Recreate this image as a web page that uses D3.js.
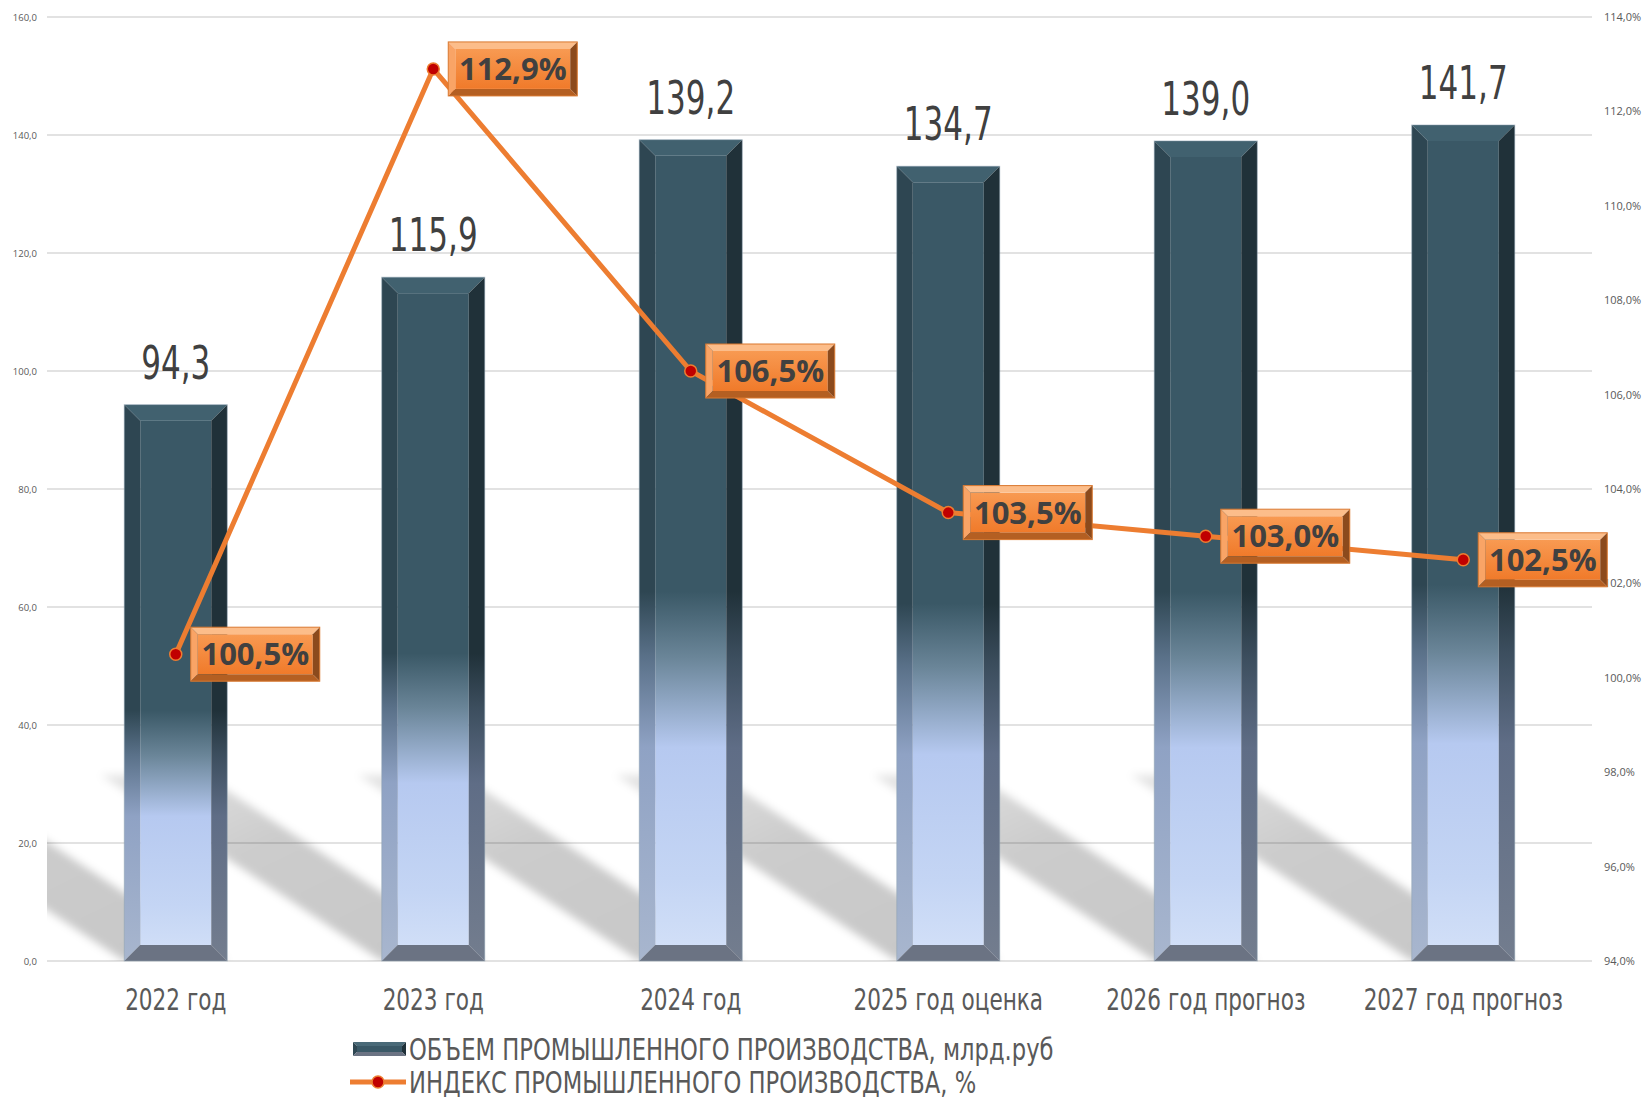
<!DOCTYPE html>
<html>
<head>
<meta charset="utf-8">
<script src="https://cdn.jsdelivr.net/npm/d3@7"></script>
<style>
body { margin: 0; background: #fff; }
svg { display: block; }
</style>
</head>
<body>
<svg id="chart" width="1645" height="1097"></svg>
<script>
var categories = ["2022 год", "2023 год", "2024 год", "2025 год оценка", "2026 год прогноз", "2027 год прогноз"];
var volume = [94.3, 115.9, 139.2, 134.7, 139.0, 141.7];
var indexVals = [100.5, 112.9, 106.5, 103.5, 103.0, 102.5];
var leftTicks = [0, 20, 40, 60, 80, 100, 120, 140, 160];
var rightTicks = [94, 96, 98, 100, 102, 104, 106, 108, 110, 112, 114];
var legendLabels = ["ОБЪЕМ ПРОМЫШЛЕННОГО ПРОИЗВОДСТВА, млрд.руб", "ИНДЕКС ПРОМЫШЛЕННОГО ПРОИЗВОДСТВА, %"];

var narrow = "'DejaVu Sans Condensed', 'Liberation Sans', sans-serif";
var svg = d3.select("#chart");
var defs = svg.append("defs");

var plotL = 47, plotR = 1592, plotT = 17, plotB = 961;

var x = d3.scaleBand().domain(categories).range([plotL, plotR]).paddingInner(0.6).paddingOuter(0.3);
var y = d3.scaleLinear().domain([0, 160]).range([plotB, plotT]);
var y2 = d3.scaleLinear().domain([94, 114]).range([plotB, plotT]);

function comma(f) { return function(d) { return d3.format(f)(d).replace(".", ","); }; }

// grid
svg.append("g")
  .selectAll("line")
  .data(leftTicks)
  .enter().append("line")
  .attr("x1", plotL).attr("x2", plotR)
  .attr("y1", function(d) { return y(d); })
  .attr("y2", function(d) { return y(d); })
  .attr("stroke", "#d9d9d9")
  .attr("stroke-width", 1.5);

// axes
var gl = svg.append("g")
  .attr("transform", "translate(" + plotL + ",0)")
  .call(d3.axisLeft(y).tickValues(leftTicks).tickSize(0).tickPadding(10).tickFormat(comma(".1f")));
gl.select(".domain").remove();
gl.selectAll("text").attr("fill", "#595959").style("font", "9.5px 'Open Sans', sans-serif");

var gr = svg.append("g")
  .attr("transform", "translate(" + plotR + ",0)")
  .call(d3.axisRight(y2).tickValues(rightTicks).tickSize(0).tickPadding(12).tickFormat(function(d) { return comma(".1f")(d) + "%"; }));
gr.select(".domain").remove();
gr.selectAll("text").attr("fill", "#595959").style("font", "11px 'Open Sans', sans-serif");

// shadows
defs.append("clipPath").attr("id", "plotClip")
  .append("rect").attr("x", plotL).attr("y", plotT).attr("width", plotR - plotL).attr("height", plotB - plotT);
defs.append("filter").attr("id", "blur").attr("x", "-20%").attr("y", "-20%").attr("width", "140%").attr("height", "140%")
  .append("feGaussianBlur").attr("stdDeviation", 4);
var shGrad = defs.append("linearGradient").attr("id", "shadowFade")
  .attr("x1", 1).attr("y1", 1).attr("x2", 0).attr("y2", 0);
shGrad.append("stop").attr("offset", 0).attr("stop-color", "#000").attr("stop-opacity", 0.22);
shGrad.append("stop").attr("offset", 0.6).attr("stop-color", "#000").attr("stop-opacity", 0.2);
shGrad.append("stop").attr("offset", 1).attr("stop-color", "#000").attr("stop-opacity", 0.1);

var sdx = -281, sdy = -186;
svg.append("g")
  .attr("clip-path", "url(#plotClip)")
  .append("g")
  .attr("filter", "url(#blur)")
  .selectAll("polygon")
  .data(categories)
  .enter().append("polygon")
  .attr("points", function(d) {
    var L = x(d), w = x.bandwidth(), b = y(0);
    return [[L, b], [L + w, b], [L + w + sdx, b + sdy], [L + sdx, b + sdy]].join(" ");
  })
  .attr("fill", "url(#shadowFade)");

// gradient per bar
function grad(id, y1, y2v, stops) {
  var g = defs.append("linearGradient").attr("id", id)
    .attr("gradientUnits", "userSpaceOnUse")
    .attr("x1", 0).attr("x2", 0).attr("y1", y1).attr("y2", y2v);
  stops.forEach(function(s) {
    g.append("stop").attr("offset", s[0]).attr("stop-color", s[1]);
  });
}

var faceStops = [[0, "#3a5866"], [0.55, "#3a5866"], [0.63, "#6a8598"], [0.74, "#b6c9f0"], [0.9, "#c4d5f4"], [1, "#d4e1f8"]];
var leftStops = [[0, "#2e4652"], [0.55, "#2e4652"], [0.63, "#5a7189"], [0.74, "#8fa2c4"], [1, "#a8b6ce"]];
var rightStops = [[0, "#203139"], [0.55, "#203139"], [0.63, "#3c4e5e"], [0.74, "#5f6d86"], [1, "#737d8e"]];

function bevelBox(g, bx, by, w, h, b, fills) {
  g.append("rect").attr("x", bx + b).attr("y", by + b).attr("width", w - 2 * b).attr("height", h - 2 * b).attr("fill", fills.face);
  g.append("polygon").attr("points", [[bx, by], [bx + w, by], [bx + w - b, by + b], [bx + b, by + b]].join(" ")).attr("fill", fills.top);
  g.append("polygon").attr("points", [[bx, by], [bx + b, by + b], [bx + b, by + h - b], [bx, by + h]].join(" ")).attr("fill", fills.left);
  g.append("polygon").attr("points", [[bx + w, by], [bx + w, by + h], [bx + w - b, by + h - b], [bx + w - b, by + b]].join(" ")).attr("fill", fills.right);
  g.append("polygon").attr("points", [[bx, by + h], [bx + b, by + h - b], [bx + w - b, by + h - b], [bx + w, by + h]].join(" ")).attr("fill", fills.bottom);
  if (fills.stroke) {
    g.append("rect").attr("x", bx).attr("y", by).attr("width", w).attr("height", h)
      .attr("fill", "none").attr("stroke", fills.stroke).attr("stroke-width", 1);
  }
}

var bars = svg.append("g");
volume.forEach(function(v, i) {
  var bx = x(categories[i]), w = x.bandwidth(), by = y(v), h = y(0) - y(v);
  grad("face" + i, by, y(0), faceStops);
  grad("left" + i, by, y(0), leftStops);
  grad("right" + i, by, y(0), rightStops);
  bevelBox(bars.append("g"), bx, by, w, h, 16, {
    face: "url(#face" + i + ")", top: "#41616f", left: "url(#left" + i + ")",
    right: "url(#right" + i + ")", bottom: "#6b7383", stroke: "rgba(140,160,175,0.5)"
  });
});

// bar values
svg.append("g")
  .selectAll("text")
  .data(volume)
  .enter().append("text")
  .attr("transform", function(d, i) { return "translate(" + (x(categories[i]) + x.bandwidth() / 2) + "," + (y(d) - 26) + ") scale(0.75,1)"; })
  .attr("text-anchor", "middle")
  .attr("fill", "#404040")
  .style("font", "46px " + narrow)
  .text(function(d) { return comma(".1f")(d); });

// category labels
svg.append("g")
  .selectAll("text")
  .data(categories)
  .enter().append("text")
  .attr("transform", function(d) { return "translate(" + (x(d) + x.bandwidth() / 2) + ",1010) scale(0.8,1)"; })
  .attr("text-anchor", "middle")
  .attr("fill", "#595959")
  .style("font", "30px " + narrow)
  .text(function(d) { return d; });

// index line
var cx = function(d, i) { return x(categories[i]) + x.bandwidth() / 2; };
var line = d3.line().x(cx).y(function(d) { return y2(d); });
svg.append("path")
  .datum(indexVals)
  .attr("d", line)
  .attr("fill", "none")
  .attr("stroke", "#ed7d31")
  .attr("stroke-width", 5)
  .attr("stroke-linejoin", "round");

svg.append("g")
  .selectAll("circle")
  .data(indexVals)
  .enter().append("circle")
  .attr("cx", cx)
  .attr("cy", function(d) { return y2(d); })
  .attr("r", 6)
  .attr("fill", "#c00000")
  .attr("stroke", "#ed7d31")
  .attr("stroke-width", 1.5);

// index labels
var boxGrad = defs.append("linearGradient").attr("id", "boxFace").attr("x1", 0).attr("x2", 0).attr("y1", 0).attr("y2", 1);
boxGrad.append("stop").attr("offset", 0).attr("stop-color", "#f89a52");
boxGrad.append("stop").attr("offset", 1).attr("stop-color", "#f07a2a");

var labels = svg.append("g");
indexVals.forEach(function(v, i) {
  var px = cx(v, i), py = y2(v);
  var g = labels.append("g");
  bevelBox(g, px + 15, py - 27, 129, 54, 7, {
    face: "url(#boxFace)", top: "#fcbd8a", left: "#f9a466", right: "#8c4a1c", bottom: "#b45f22", stroke: "#d9782f"
  });
  g.append("text")
    .attr("x", px + 15 + 64.5)
    .attr("y", py + 11)
    .attr("text-anchor", "middle")
    .attr("fill", "#404040")
    .style("font", "bold 31px 'Open Sans', sans-serif")
    .text(comma(".1f")(v) + "%");
});

// legend
var lg = svg.append("g");
var lgBar = lg.append("g");
bevelBox(lgBar, 353, 1042, 53, 14, 4, { face: "#3a5866", top: "#4a6a78", left: "#2e4652", right: "#203139", bottom: "#6b7383" });
lg.append("line").attr("x1", 350).attr("x2", 406).attr("y1", 1082).attr("y2", 1082)
  .attr("stroke", "#ed7d31").attr("stroke-width", 5);
lg.append("circle").attr("cx", 378).attr("cy", 1082).attr("r", 6)
  .attr("fill", "#c00000").attr("stroke", "#ed7d31").attr("stroke-width", 1.5);
lg.selectAll("text.leg")
  .data(legendLabels)
  .enter().append("text")
  .attr("class", "leg")
  .attr("transform", function(d, i) { return "translate(409," + (1060 + i * 33) + ") scale(0.84,1)"; })
  .attr("fill", "#595959")
  .style("font", "30px " + narrow)
  .text(function(d) { return d; });
</script>
</body>
</html>
